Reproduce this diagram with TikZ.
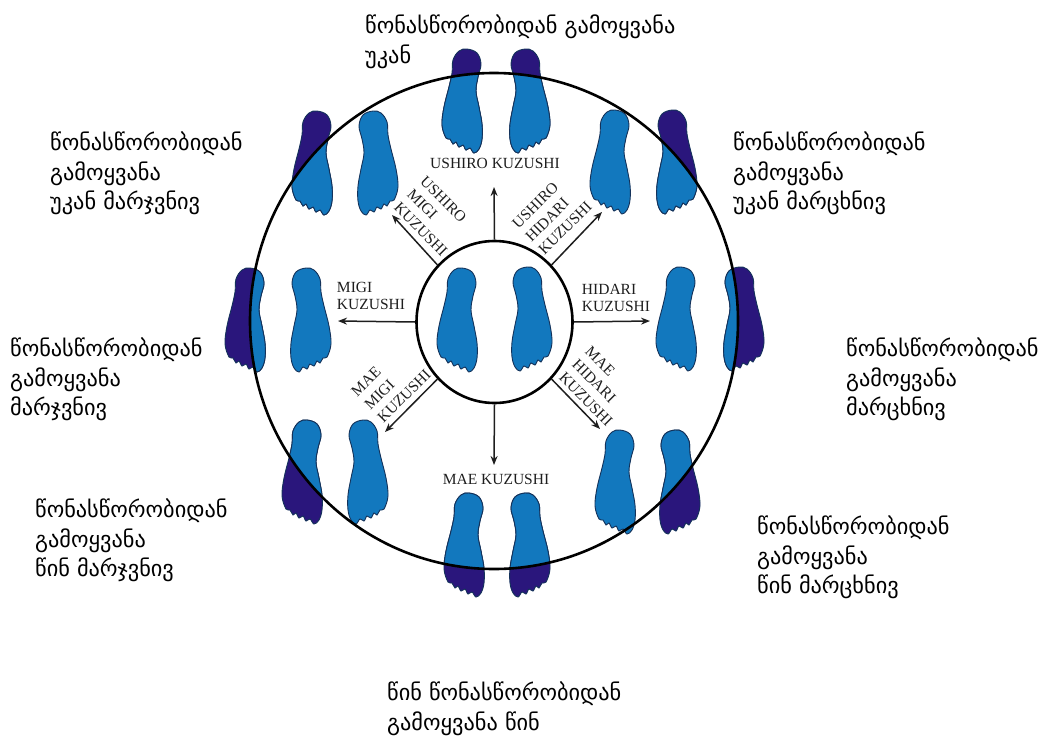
\documentclass[tikz,border=0pt]{standalone}
\usepackage{fontspec}
\setmainfont{Liberation Serif}
\newfontfamily\georgianfont{DejaVu Sans}
\usepackage{xcolor}
\definecolor{footblue}{RGB}{18,120,190}
\definecolor{footdark}{RGB}{42,22,124}
\definecolor{footline}{RGB}{20,50,90}
\definecolor{inkgray}{RGB}{30,30,30}
\usetikzlibrary{arrows.meta,positioning,shapes.geometric}
\tikzset{
  foot/.pic={
    \draw[footline,fill=#1,line width=0.9pt] plot[smooth cycle,tension=0.6] coordinates {
      (5,0) (15,4) (19,15) (16,28) (14,42) (17,58) (20,75) (20,90) (17,100) (12,104)
      (8,99) (4,101) (1,96) (-3,98) (-6,93) (-9,95) (-12,90) (-16,89) (-20,76)
      (-18,58) (-13,38) (-10,24) (-9,11) (-3,2)};
  }
}
\begin{document}
\begin{tikzpicture}[x=1pt,y=-1pt,
  georgian/.style={anchor=north west,inner sep=0pt,align=left,text=black,
    font=\georgianfont\fontsize{22.3}{29.5}\selectfont},
  kuzushi/.style={inner sep=0pt,align=left,text=inkgray,
    font=\fontsize{15.5}{16.5}\selectfont},
  tilted/.style={kuzushi,font=\fontsize{15.5}{18.5}\selectfont},
  rim/.style={draw=black,ellipse,inner sep=0pt,line width=2.6pt},
  spoke/.style={-{Stealth[length=9pt,width=7pt]},line width=1.5pt,draw=inkgray}]
  \useasboundingbox (0,0) rectangle (1043,736);
  % plain feet
  \foreach \x/\y/\s in {378/111/-1,610/110/1,311/268/-1,457/268/1,532/267/-1,676/267/1,368/420/-1,615/430/1}
    \pic[xscale=\s] at (\x,\y) {foot=footblue};
  % feet that stand over the rim
  \foreach \x/\y/\s in {462/49/1,530/49/-1,312/111/1,677/110/-1,245/268/1,744/267/-1,302/420/1,680/430/-1,464/493/1,530/493/-1} {
    \pic[xscale=\s] at (\x,\y) {foot=footdark};
    \begin{scope}
      \clip (494,321) ellipse [x radius=244,y radius=248];
      \pic[xscale=\s] at (\x,\y) {foot=footblue};
    \end{scope}
  }
  \node[rim,minimum width=488pt,minimum height=496pt] (outer) at (494,321) {};
  \node[rim,minimum width=156pt,minimum height=162pt] (hub) at (494.5,322) {};
  \coordinate (backend) at (494,187);
  \coordinate (backleftend) at (392,215);
  \coordinate (backrightend) at (602,212);
  \coordinate (leftend) at (338,321);
  \coordinate (rightend) at (650,321);
  \coordinate (frontleftend) at (385,432);
  \coordinate (frontrightend) at (600,429);
  \coordinate (frontend) at (494,465);
  \draw[spoke] (hub.north) -- (backend);
  \draw[spoke] (hub.135) -- (backleftend);
  \draw[spoke] (hub.45) -- (backrightend);
  \draw[spoke] (hub.west) -- (leftend);
  \draw[spoke] (hub.east) -- (rightend);
  \draw[spoke] (hub.225) -- (frontleftend);
  \draw[spoke] (hub.-45) -- (frontrightend);
  \draw[spoke] (hub.south) -- (frontend);
  \node[kuzushi] (back) at (495,163) {USHIRO KUZUSHI};
  \node[kuzushi] (front) at (496,479) {MAE KUZUSHI};
  \node[kuzushi] (left) at (371,296) {MIGI\\KUZUSHI};
  \node[kuzushi] (right) at (616,298) {HIDARI\\KUZUSHI};
  \node[tilted,rotate=-45] (backleft) at (434,216) {USHIRO\\MIGI\\KUZUSHI};
  \node[tilted,rotate=45] (backright) at (552,215) {USHIRO\\HIDARI\\KUZUSHI};
  \node[tilted,rotate=45] (frontleft) at (391,383) {MAE\\MIGI\\KUZUSHI};
  \node[tilted,rotate=-45] (frontright) at (599,386) {MAE\\HIDARI\\KUZUSHI};
  \node[georgian] (ttop) at (365,15) {წონასწორობიდან გამოყვანა\\უკან};
  \node[georgian] (tbackleft) at (50,132) {წონასწორობიდან\\გამოყვანა\\უკან მარჯვნივ};
  \node[georgian] (tbackright) at (733,132) {წონასწორობიდან\\გამოყვანა\\უკან მარცხნივ};
  \node[georgian] (tleft) at (10,338) {წონასწორობიდან\\გამოყვანა\\მარჯვნივ};
  \node[georgian] (tright) at (846,338) {წონასწორობიდან\\გამოყვანა\\მარცხნივ};
  \node[georgian] (tfrontleft) at (35,499) {წონასწორობიდან\\გამოყვანა\\წინ მარჯვნივ};
  \node[georgian] (tfrontright) at (757,516) {წონასწორობიდან\\გამოყვანა\\წინ მარცხნივ};
  \node[georgian] (tbottom) at (387,682) {წინ წონასწორობიდან\\გამოყვანა წინ};
\end{tikzpicture}
\end{document}
